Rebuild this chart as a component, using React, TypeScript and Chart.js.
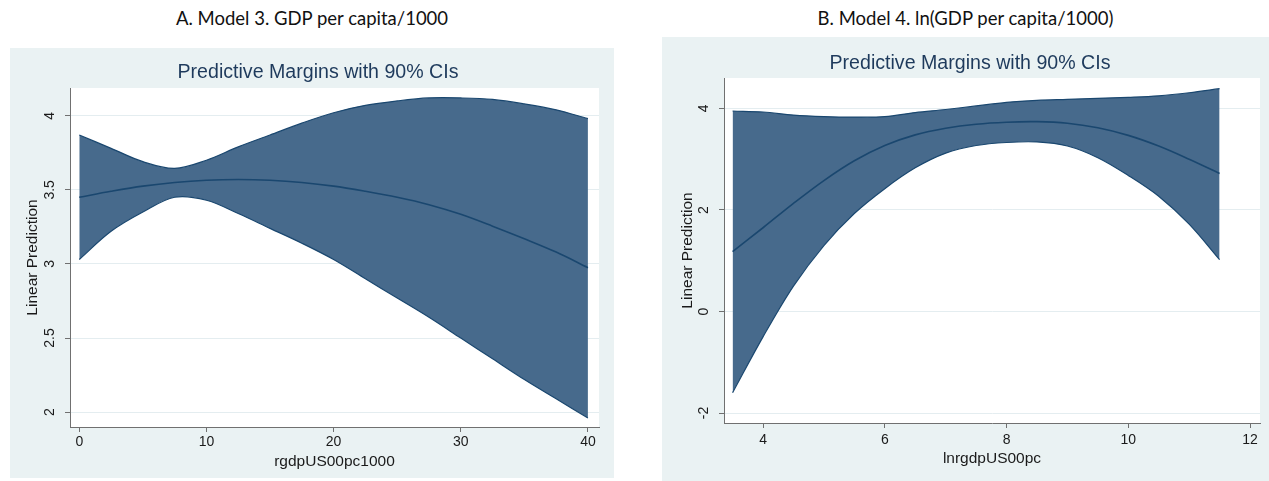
import React, { useEffect, useRef } from "react";
import { Chart, registerables } from "chart.js";

Chart.register(...registerables);

// ---------- Data ----------
const HEADER_A = "A. Model 3. GDP per capita/1000";
const HEADER_B = "B. Model 4. ln(GDP per capita/1000)";
const CHART_TITLE = "Predictive Margins with 90% CIs";
const Y_TITLE = "Linear Prediction";
const A_X_TITLE = "rgdpUS00pc1000";
const B_X_TITLE = "lnrgdpUS00pc";

const A_X = [0, 2.5, 5, 7.5, 10, 12.5, 15, 17.5, 20, 22.5, 25, 27.5, 30, 32.5, 35, 37.5, 40];
const A_UPPER = [3.87, 3.78, 3.69, 3.645, 3.7, 3.79, 3.87, 3.95, 4.02, 4.07, 4.1, 4.12, 4.12, 4.11, 4.08, 4.04, 3.98];
const A_MEAN = [3.45, 3.49, 3.525, 3.55, 3.565, 3.57, 3.565, 3.55, 3.525, 3.49, 3.45, 3.4, 3.335, 3.255, 3.17, 3.08, 2.975];
const A_LOWER = [3.03, 3.22, 3.35, 3.45, 3.43, 3.34, 3.24, 3.14, 3.03, 2.9, 2.77, 2.64, 2.5, 2.36, 2.22, 2.09, 1.96];
const A_X_TICKS = [0, 10, 20, 30, 40];
const A_Y_TICKS = [2, 2.5, 3, 3.5, 4];

const B_X = [3.5, 4, 4.5, 5, 5.5, 6, 6.5, 7, 7.5, 8, 8.5, 9, 9.5, 10, 10.5, 11, 11.5];
const B_UPPER = [3.95, 3.93, 3.87, 3.84, 3.83, 3.84, 3.92, 3.98, 4.05, 4.12, 4.16, 4.18, 4.2, 4.22, 4.25, 4.31, 4.39];
const B_MEAN = [1.18, 1.65, 2.13, 2.58, 2.97, 3.27, 3.48, 3.61, 3.69, 3.73, 3.74, 3.71, 3.62, 3.47, 3.26, 3.0, 2.72];
const B_LOWER = [-1.6, -0.5, 0.5, 1.3, 1.93, 2.42, 2.83, 3.12, 3.27, 3.33, 3.34, 3.26, 3.03, 2.68, 2.27, 1.72, 1.02];
const B_X_TICKS = [4, 6, 8, 10, 12];
const B_Y_TICKS = [-2, 0, 2, 4];

// ---------- Style ----------
const FONT = "'Liberation Sans', Arial, sans-serif";
const BAND = "#476a8c";
const LINE = "#1a476f";
const OUTER_BG = "#eaf2f3";
const GRID = "#e4edf0";
const AXIS = "#707070";
const TEXT = "#1a1a1a";
const TITLE_COLOR = "#1e3a5c";

interface PanelCfg {
  xs: number[];
  upper: number[];
  mean: number[];
  lower: number[];
  xTicks: number[];
  yTicks: number[];
  xMin: number;
  xMax: number;
  yMin: number;
  yMax: number;
  xTitle: string;
  header: string;
  box: { left: number; top: number; width: number; height: number };
  padLeft: number;
  yW: number;
  xH: number;
  padRight: number;
  titlePad: { top: number; bottom: number };
  yTickPad: number;
  yTitlePad: number;
  xTickPad: number;
  xTitlePad: number;
}

const plotBg = {
  id: "plotBg",
  beforeDraw(chart: any) {
    const { ctx, chartArea } = chart;
    if (!chartArea) return;
    ctx.save();
    ctx.fillStyle = "#ffffff";
    ctx.fillRect(chartArea.left, chartArea.top, chartArea.right - chartArea.left, chartArea.bottom - chartArea.top);
    ctx.restore();
  },
};

function Panel({ cfg }: { cfg: PanelCfg }) {
  const ref = useRef<HTMLCanvasElement | null>(null);
  useEffect(() => {
    if (!ref.current) return;
    const pts = (ys: number[]) => cfg.xs.map((x, i) => ({ x, y: ys[i] }));
    const common = { pointRadius: 0, tension: 0.35 };
    const chart = new Chart(ref.current, {
      type: "line",
      data: {
        datasets: [
          {
            ...common,
            data: pts(cfg.upper),
            borderColor: LINE,
            borderWidth: 1.2,
            backgroundColor: BAND,
            fill: "+1",
          },
          {
            ...common,
            data: pts(cfg.lower),
            borderColor: LINE,
            borderWidth: 1.2,
            backgroundColor: BAND,
            fill: false,
          },
          {
            ...common,
            data: pts(cfg.mean),
            borderColor: LINE,
            borderWidth: 1.6,
            fill: false,
          },
        ],
      },
      options: {
        animation: false,
        responsive: false,
        devicePixelRatio: 1,
        layout: { padding: { left: cfg.padLeft, top: 0, right: cfg.padRight, bottom: 0 } },
        plugins: {
          legend: { display: false },
          tooltip: { enabled: false },
          filler: { drawTime: "beforeDatasetsDraw" },
          title: {
            display: true,
            text: CHART_TITLE,
            color: TITLE_COLOR,
            font: { family: FONT, size: 19.6, weight: "normal" },
            padding: cfg.titlePad,
          },
        },
        scales: {
          x: {
            type: "linear",
            min: cfg.xMin,
            max: cfg.xMax,
            afterBuildTicks: (s: any) => {
              s.ticks = cfg.xTicks.map((v) => ({ value: v }));
            },
            afterFit: (s: any) => {
              s.height = cfg.xH;
            },
            grid: { drawOnChartArea: false, drawTicks: true, tickLength: 5, tickColor: AXIS },
            border: { color: AXIS, width: 1 },
            ticks: {
              color: TEXT,
              font: { family: FONT, size: 14 },
              padding: cfg.xTickPad,
              maxRotation: 0,
              callback: (v: any) => String(v),
            },
            title: {
              display: true,
              text: cfg.xTitle,
              color: TEXT,
              font: { family: FONT, size: 15.5 },
              padding: { top: 0, bottom: cfg.xTitlePad },
            },
          },
          y: {
            type: "linear",
            min: cfg.yMin,
            max: cfg.yMax,
            afterBuildTicks: (s: any) => {
              s.ticks = cfg.yTicks.map((v) => ({ value: v }));
            },
            afterFit: (s: any) => {
              s.width = cfg.yW;
            },
            grid: { color: GRID, lineWidth: 1, drawTicks: true, tickLength: 5, tickColor: AXIS },
            border: { color: AXIS, width: 1 },
            ticks: {
              color: TEXT,
              font: { family: FONT, size: 14 },
              padding: cfg.yTickPad,
              minRotation: 90,
              maxRotation: 90,
              crossAlign: "center",
              callback: (v: any) => String(v),
            },
            title: {
              display: true,
              text: Y_TITLE,
              color: TEXT,
              font: { family: FONT, size: 15.5 },
              padding: { top: cfg.yTitlePad, bottom: 0 },
            },
          },
        },
      },
      plugins: [plotBg],
    } as any);
    return () => chart.destroy();
  }, [cfg]);

  const { box } = cfg;
  return (
    <>
      <div
        style={{
          position: "absolute",
          left: box.left,
          top: 4,
          width: box.width,
          textAlign: "center",
          fontFamily: "Lato, 'Open Sans', sans-serif",
          fontSize: 18.5,
          lineHeight: "28px",
          color: "#111",
        }}
      >
        {cfg.header}
      </div>
      <div
        style={{
          position: "absolute",
          left: box.left,
          top: box.top,
          width: box.width,
          height: box.height,
          background: OUTER_BG,
        }}
      >
        <canvas ref={ref} width={box.width} height={box.height} style={{ display: "block" }} />
      </div>
    </>
  );
}

const PANEL_A: PanelCfg = {
  xs: A_X,
  upper: A_UPPER,
  mean: A_MEAN,
  lower: A_LOWER,
  xTicks: A_X_TICKS,
  yTicks: A_Y_TICKS,
  xMin: -0.73,
  xMax: 40.87,
  yMin: 1.9,
  yMax: 4.187,
  xTitle: A_X_TITLE,
  header: HEADER_A,
  box: { left: 10, top: 48, width: 604, height: 430 },
  padLeft: 27,
  yW: 33,
  xH: 51,
  padRight: 15,
  titlePad: { top: 13.2, bottom: 3.3 },
  yTickPad: 5,
  yTitlePad: -13.3,
  xTickPad: 2,
  xTitlePad: 6.7,
};

const PANEL_B: PanelCfg = {
  xs: B_X,
  upper: B_UPPER,
  mean: B_MEAN,
  lower: B_LOWER,
  xTicks: B_X_TICKS,
  yTicks: B_Y_TICKS,
  xMin: 3.359,
  xMax: 12.164,
  yMin: -2.197,
  yMax: 4.6,
  xTitle: B_X_TITLE,
  header: HEADER_B,
  box: { left: 662, top: 37, width: 607, height: 444 },
  padLeft: 18,
  yW: 44,
  xH: 58,
  padRight: 9,
  titlePad: { top: 15.2, bottom: 2.3 },
  yTickPad: 8.8,
  yTitlePad: -1.3,
  xTickPad: 3.5,
  xTitlePad: 13.2,
};

export default function App() {
  return (
    <div
      style={{
        position: "absolute",
        left: 0,
        top: 0,
        width: 1269,
        height: 481,
        background: "#ffffff",
        overflow: "hidden",
      }}
    >
      <Panel cfg={PANEL_A} />
      <Panel cfg={PANEL_B} />
    </div>
  );
}
